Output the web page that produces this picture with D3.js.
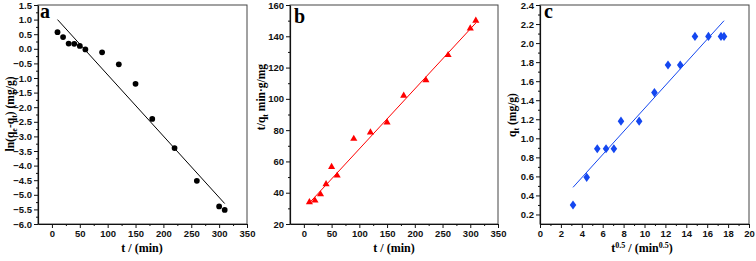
<!DOCTYPE html>
<meta charset="utf-8">
<script src="https://d3js.org/d3.v7.min.js"></script>
<style>
body{ margin:0; background:#fff; }
svg{ display:block; font-family:"Liberation Serif", "Times New Roman", serif; font-weight:bold; }
.tick text{ font-size:9.5px; font-weight:bold; fill:#111; }
.domain{ stroke:#111; stroke-width:1.2; }
.tick line{ stroke:#111; }
</style>
<body>
<div id="chart"></div>
<script>

// time points (min)
var tMin = [10, 20, 30, 40, 50, 60, 90, 120, 150, 180, 220, 260, 300, 310];
// panel a : ln(qe - qt)
var lnQ = [0.57, 0.40, 0.18, 0.17, 0.10, -0.02, -0.12, -0.53, -1.20, -2.40, -3.40, -4.52, -5.40, -5.52];
var lineA = [[10, 1.0], [310, -5.3]];
// panel b : t/qt
var tOverQ = [34, 35, 39, 45.5, 56.5, 51, 74.5, 78.5, 85, 102, 112, 128, 145, 150];
var lineB = [[10, 33.5], [310, 148.5]];
// panel c : qt against t^0.5
var sqrtT = [3.16, 4.47, 5.48, 6.32, 7.07, 7.75, 9.49, 10.95, 12.25, 13.42, 14.83, 16.12, 17.32, 17.61];
var qt = [0.30, 0.59, 0.89, 0.89, 0.89, 1.18, 1.18, 1.48, 1.77, 1.77, 2.07, 2.07, 2.07, 2.07];
var lineC = [[3.16, 0.485], [17.61, 2.235]];

var ticksA_y = d3.range(-6, 1.51, 0.5);
var ticksB_y = d3.range(20, 161, 20);
var ticksC_y = d3.range(0.2, 2.41, 0.2);
var ticksT = d3.range(0, 351, 50);
var ticksC_x = d3.range(0, 21, 2);

var svg = d3.select("#chart").append("svg")
  .attr("width", 756)
  .attr("height", 261);

var panels = [
  {left:38, right:247, xd:[-25, 350], yd:[-6, 1.5], xt:ticksT, yt:ticksA_y, fy:".1f", fx:"d",
   xs:tMin, ys:lnQ, fit:lineA, color:"#000", shape:"circle", tag:"a", tagX:40, tagY:18},
  {left:290, right:498, xd:[-25, 350], yd:[20, 160], xt:ticksT, yt:ticksB_y, fy:"d", fx:"d",
   xs:tMin, ys:tOverQ, fit:lineB, color:"#ff0000", shape:"triangle", tag:"b", tagX:294, tagY:23},
  {left:540, right:749, xd:[0, 20], yd:[0.1, 2.4], xt:ticksC_x, yt:ticksC_y, fy:".1f", fx:"d",
   xs:sqrtT, ys:qt, fit:lineC, color:"#1447f0", shape:"diamond", tag:"c", tagX:544, tagY:18}
];

var plotTop = 5, plotBottom = 224;

function mids(t){
  var m = [];
  for (var i = 0; i < t.length - 1; i++) m.push((t[i] + t[i+1]) / 2);
  return m;
}

panels.forEach(function(p){
  var x = d3.scaleLinear().domain(p.xd).range([p.left, p.right]);
  var y = d3.scaleLinear().domain(p.yd).range([plotBottom, plotTop]);
  var g = svg.append("g");

  // frame
  g.append("rect")
    .attr("x", p.left).attr("y", plotTop)
    .attr("width", p.right - p.left).attr("height", plotBottom - plotTop)
    .attr("fill", "none").attr("stroke", "#444").attr("stroke-width", 1);

  // minor ticks
  g.append("g").attr("transform", "translate(0," + plotBottom + ")")
    .call(d3.axisBottom(x).tickValues(mids(p.xt)).tickSize(2).tickFormat(""))
    .select(".domain").remove();
  g.append("g").attr("transform", "translate(" + p.left + ",0)")
    .call(d3.axisLeft(y).tickValues(mids(p.yt)).tickSize(2).tickFormat(""))
    .select(".domain").remove();

  // major axes
  g.append("g").attr("transform", "translate(0," + plotBottom + ")")
    .call(d3.axisBottom(x).tickValues(p.xt).tickSize(4).tickPadding(2).tickSizeOuter(0).tickFormat(d3.format(p.fx)));
  g.append("g").attr("transform", "translate(" + p.left + ",0)")
    .call(d3.axisLeft(y).tickValues(p.yt).tickSize(4).tickPadding(2).tickSizeOuter(0).tickFormat(d3.format(p.fy)));

  // fitted line
  g.append("line")
    .attr("x1", x(p.fit[0][0])).attr("y1", y(p.fit[0][1]))
    .attr("x2", x(p.fit[1][0])).attr("y2", y(p.fit[1][1]))
    .attr("stroke", p.color).attr("stroke-width", 1);

  // points
  var sym = p.shape == "circle" ? d3.symbolCircle : p.shape == "triangle" ? d3.symbolTriangle : d3.symbolDiamond;
  var size = p.shape == "circle" ? 26 : p.shape == "triangle" ? 22 : 24;
  g.selectAll(".pt")
    .data(p.xs.map(function(v, i){ return [v, p.ys[i]]; }))
    .enter().append("path")
      .attr("d", d3.symbol().type(sym).size(size))
      .attr("transform", function(d){
        var sx = p.shape == "diamond" ? " scale(1.25,1)" : "";
        return "translate(" + x(d[0]) + "," + y(d[1]) + ")" + sx;
      })
      .attr("fill", p.color);

  // panel tag
  g.append("text")
    .attr("x", p.tagX).attr("y", p.tagY)
    .style("font-size", "20px")
    .text(p.tag);
});

// axis titles
function xTitle(cx, parts){
  var t = svg.append("text").attr("x", cx).attr("y", 252)
    .attr("text-anchor", "middle").style("font-size", "12px");
  parts.forEach(function(s){
    var ts = t.append("tspan").text(s[0]);
    if (s[1] == "sup") ts.attr("dy", -4).style("font-size", "8px");
    if (s[1] == "back") ts.attr("dy", 4);
  });
}
xTitle(142, [["t / (min)"]]);
xTitle(394, [["t / (min)"]]);
xTitle(642, [["t"], ["0.5", "sup"], [" / (min", "back"], ["0.5", "sup"], [")", "back"]]);

function yTitle(cx, cy, parts){
  var t = svg.append("text")
    .attr("transform", "translate(" + cx + "," + cy + ") rotate(-90)")
    .attr("text-anchor", "middle").style("font-size", "11.5px");
  parts.forEach(function(s){
    var ts = t.append("tspan").text(s[0]);
    if (s[1] == "sub") ts.attr("dy", 3).style("font-size", "8px");
    if (s[1] == "back") ts.attr("dy", -3);
  });
}
yTitle(14, 114, [["ln(q"], ["e", "sub"], ["-q", "back"], ["t", "sub"], [") (mg/g)", "back"]]);
yTitle(265, 97, [["t/q"], ["t", "sub"], [" min·g/mg", "back"]]);
yTitle(516, 115, [["q"], ["t", "sub"], [" (mg/g)", "back"]]);

</script>
</body>
